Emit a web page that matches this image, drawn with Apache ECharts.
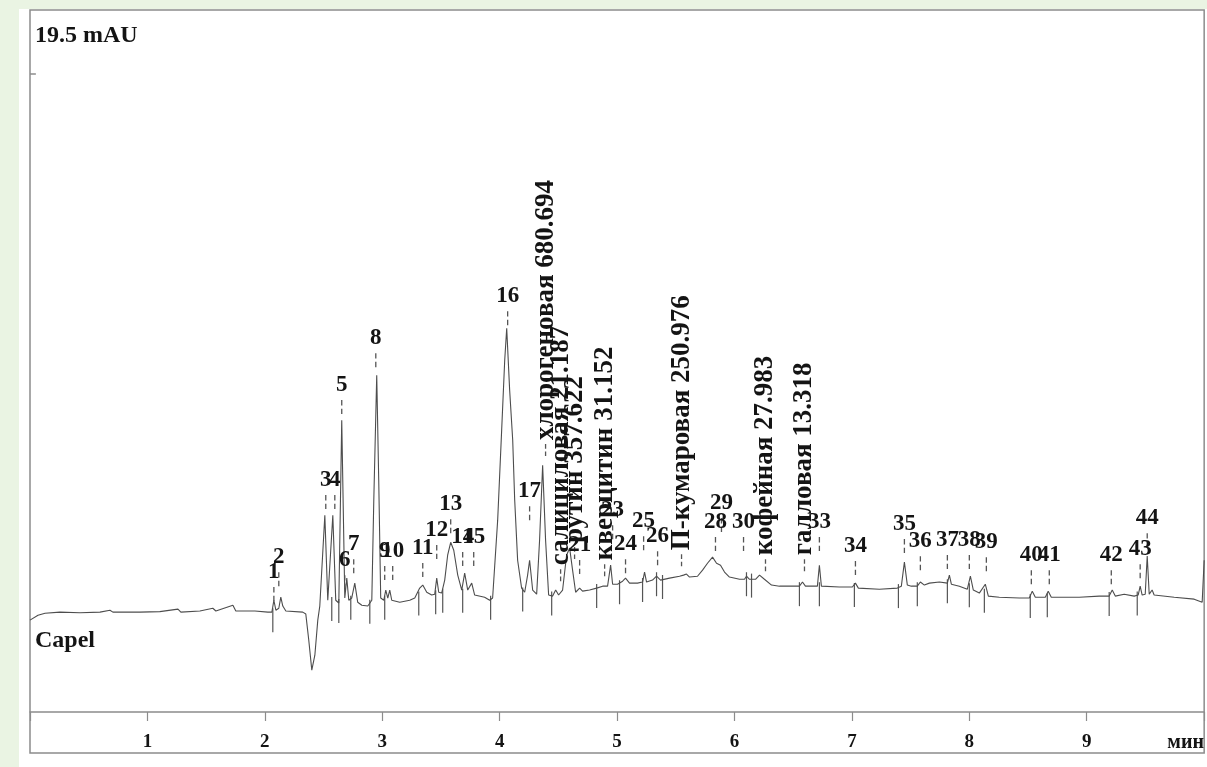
<!DOCTYPE html>
<html><head><meta charset="utf-8">
<script src="https://cdn.jsdelivr.net/npm/echarts@6/dist/echarts.min.js"></script>
<style>
html,body{margin:0;padding:0;background:#eaf4e3;width:1207px;height:767px;overflow:hidden;}
#panel{position:absolute;left:19px;top:9px;width:1188px;height:758px;background:#fff;}
#chart{position:absolute;left:0;top:0;width:1207px;height:767px;}
</style></head><body>
<div id="panel"></div><div id="chart"></div>
<script>
// chromatogram trace (minutes, mAU)
const traceTime = [0.000,0.068,0.128,0.255,0.426,0.596,0.681,0.706,0.936,1.106,1.260,1.285,1.447,1.557,1.583,1.728,1.753,1.915,2.026,2.060,2.077,2.094,2.119,2.136,2.153,2.179,2.323,2.349,2.374,2.400,2.426,2.451,2.468,2.485,2.511,2.536,2.553,2.579,2.604,2.630,2.655,2.681,2.698,2.715,2.740,2.766,2.791,2.826,2.877,2.911,2.928,2.953,2.970,2.987,3.013,3.030,3.047,3.064,3.081,3.149,3.234,3.277,3.319,3.345,3.379,3.421,3.447,3.464,3.481,3.506,3.532,3.557,3.583,3.609,3.643,3.677,3.702,3.728,3.745,3.762,3.787,3.872,3.915,3.940,3.983,4.017,4.043,4.060,4.085,4.111,4.128,4.153,4.187,4.213,4.238,4.255,4.281,4.315,4.340,4.366,4.391,4.417,4.451,4.477,4.502,4.536,4.570,4.596,4.621,4.647,4.681,4.706,4.766,4.826,4.877,4.894,4.919,4.945,4.962,5.004,5.047,5.072,5.106,5.174,5.217,5.234,5.251,5.302,5.336,5.370,5.447,5.532,5.566,5.591,5.617,5.685,5.728,5.770,5.813,5.847,5.881,5.915,5.957,6.043,6.085,6.102,6.128,6.179,6.213,6.255,6.315,6.383,6.511,6.553,6.579,6.604,6.706,6.723,6.740,6.894,7.004,7.030,7.055,7.234,7.387,7.421,7.447,7.472,7.506,7.557,7.583,7.617,7.660,7.745,7.813,7.830,7.847,7.915,7.983,8.009,8.034,8.085,8.136,8.162,8.255,8.426,8.511,8.536,8.562,8.647,8.672,8.698,8.936,9.106,9.191,9.217,9.243,9.319,9.404,9.438,9.455,9.472,9.498,9.515,9.532,9.557,9.574,9.745,9.915,9.983,9.991,10.000];
const traceSignal = [-0.29,-0.11,-0.04,0,-0.02,0,0.07,0,0,0.02,0.11,0,0.04,0.14,0.04,0.25,0.04,0.04,0,0,0.43,0.07,0.14,0.54,0.22,0.04,0,-0.07,-1.01,-2.10,-1.56,-0.29,0.22,0.29,3.51,0.43,0.36,3.51,0.43,0.33,6.95,0.51,1.23,0.43,0.51,1.05,0.36,0.25,0.22,0.43,4.06,8.58,4.78,0.51,0.43,0.80,0.51,0.80,0.43,0.36,0.43,0.51,0.87,0.98,0.72,0.62,0.65,1.23,0.72,0.69,1.16,2.06,2.53,2.24,1.34,0.80,1.41,0.80,0.87,1.05,0.62,0.54,0.43,0.51,3.33,6.59,9.12,10.28,8.04,6.23,4.06,1.88,0.87,0.72,1.34,1.88,0.80,0.65,2.61,5.32,2.61,0.62,0.58,0.80,0.62,0.80,2.06,2.32,1.52,0.72,0.87,0.76,0.80,0.87,0.94,1.01,0.94,1.70,1.01,1.01,1.12,1.23,1.05,1.05,1.09,1.45,1.09,1.16,1.30,1.16,1.23,1.30,1.34,1.38,1.27,1.30,1.52,1.77,1.99,1.77,1.70,1.45,1.27,1.19,1.19,1.30,1.19,1.19,1.34,1.19,0.98,0.94,0.94,0.94,1.09,0.94,0.94,1.70,0.94,0.91,0.91,1.05,0.87,0.83,0.87,0.94,1.81,0.98,0.94,0.94,1.09,0.98,1.05,1.09,1.05,1.34,1.01,0.94,0.83,1.30,0.80,0.69,1.01,0.58,0.54,0.51,0.51,0.76,0.54,0.54,0.76,0.54,0.54,0.58,0.58,0.80,0.58,0.65,0.58,0.62,0.94,0.62,0.65,2.03,0.65,0.80,0.62,0.54,0.47,0.36,0.33,1.88];

// numbered peak labels
const peakNumbers = ['1','2','3','4','5','6','7','8','9','10','11','12','13','14','15','16','17','21','23','24','25','26','28','29','30','33','34','35','36','37','38','39','40','41','42','43','44'];
const peakTimes = [2.077,2.119,2.519,2.596,2.655,2.681,2.757,2.945,3.021,3.089,3.345,3.464,3.583,3.685,3.779,4.068,4.255,4.681,4.962,5.072,5.226,5.345,5.838,5.889,6.077,6.723,7.030,7.447,7.583,7.813,8.000,8.145,8.528,8.681,9.209,9.455,9.515];
const peakLabelLevels = [1.45,1.99,4.78,4.78,8.22,1.88,2.46,9.92,2.21,2.21,2.32,2.97,3.91,2.72,2.72,11.44,4.38,2.43,3.69,2.46,3.29,2.75,3.26,3.95,3.26,3.26,2.39,3.19,2.57,2.61,2.61,2.53,2.06,2.06,2.06,2.28,3.40];

// identified compounds (name + amount)
const compoundNames = ['хлорогеновая 680.694','салициловая 21.187','рутин 357.622','кверцитин 31.152','П-кумаровая 250.976','кофейная 27.983','галловая 13.318'];
const compoundTimes = [4.391,4.519,4.638,4.894,5.549,6.264,6.596];
const compoundLabelLevels = [6.23,1.70,2.50,1.88,2.24,2.06,2.06];

// integration (baseline event) markers
const eventTimes = [2.068,2.570,2.630,2.732,2.894,3.021,3.311,3.455,3.515,3.685,3.923,4.196,4.443,4.826,5.021,5.217,5.336,5.387,6.102,6.145,6.553,6.723,7.021,7.396,7.557,7.813,8.000,8.128,8.519,8.664,9.191,9.430];
const eventLevels = [0.0,0.4,0.33,0.45,0.3,0.45,0.6,0.65,0.7,0.7,0.45,0.75,0.6,0.87,1.01,1.09,1.3,1.2,1.3,1.25,0.94,0.94,0.91,0.87,0.94,1.05,0.9,0.7,0.51,0.54,0.58,0.6];

const xTickLabels = ['', '1', '2', '3', '4', '5', '6', '7', '8', '9', 'мин'];
const yFullScale = 19.5;
const yUnitLabel = '19.5 mAU';
const sampleName = 'Capel';

const FONT = '"Liberation Serif","Times New Roman",serif';
const TXT = '#141414';
const zip = (a, b) => a.map((v, i) => [v, b[i]]);
const DASH = 'path://M0,0H1V5H0ZM0,8H1V13H0Z';

const chart = echarts.init(document.getElementById('chart'), null, {renderer: 'canvas'});
chart.setOption({
  animation: false,
  backgroundColor: 'transparent',
  title: [
    {text: yUnitLabel, left: 35, top: 24, padding: 0,
     textStyle: {fontFamily: FONT, fontWeight: 'bold', fontSize: 24, color: TXT}},
    {text: sampleName, left: 35, top: 629, padding: 0,
     textStyle: {fontFamily: FONT, fontWeight: 'bold', fontSize: 24, color: TXT}}
  ],
  grid: {left: 30, right: 2, top: 10, bottom: 14, show: true,
         borderColor: '#8c8c8c', borderWidth: 1.5, backgroundColor: 'transparent'},
  xAxis: {
    type: 'value', min: 0, max: 10, interval: 1, offset: -41,
    axisLine: {show: true, onZero: false, lineStyle: {color: '#8c8c8c', width: 1.5}},
    axisTick: {show: true, length: 9, lineStyle: {color: '#8c8c8c', width: 1.2}},
    splitLine: {show: false},
    axisLabel: {
      margin: 21, showMinLabel: true, showMaxLabel: true,
      fontFamily: FONT, fontWeight: 'bold', fontSize: 19, color: TXT,
      formatter: v => {
        const s = xTickLabels[Math.round(v)];
        return Math.round(v) === 10 ? '{u|' + s + '}' : s;
      },
      rich: {u: {fontFamily: FONT, fontWeight: 'bold', fontSize: 20, color: TXT, padding: [0, 37, 0, 0]}}
    }
  },
  yAxis: {
    type: 'value', min: -5.1, max: 21.8,
    axisLine: {show: false}, axisTick: {show: false}, axisLabel: {show: false}, splitLine: {show: false}
  },
  series: [
    {
      type: 'line', data: zip(traceTime, traceSignal), showSymbol: false, symbol: 'none',
      lineStyle: {color: '#4d4d4d', width: 1.1}, silent: true, z: 3,
      markLine: {
        silent: true, symbol: 'none', label: {show: false},
        lineStyle: {color: '#8c8c8c', width: 1.5, type: 'solid'},
        data: [[{coord: [0, yFullScale]}, {coord: [0.05, yFullScale]}]]
      }
    },
    {
      type: 'scatter', data: zip(eventTimes, eventLevels), symbol: 'rect',
      symbolSize: [1.2, 24], symbolOffset: [0, 8], silent: true,
      itemStyle: {color: '#555', opacity: 1}, z: 2
    },
    {
      type: 'scatter', data: peakTimes.map((t, i) => ({value: [t, peakLabelLevels[i]], name: peakNumbers[i]})),
      symbol: DASH, symbolSize: [1.3, 14], symbolOffset: [0, 22],
      itemStyle: {color: '#555', opacity: 1}, silent: true, z: 4,
      label: {show: true, position: 'inside', offset: [0, -22], formatter: p => p.name,
              fontFamily: FONT, fontWeight: 'bold', fontSize: 23, color: TXT, opacity: 1,
              textBorderWidth: 0, textBorderColor: 'transparent',
              align: 'center', verticalAlign: 'middle'}
    },
    {
      type: 'scatter', data: compoundTimes.map((t, i) => ({value: [t, compoundLabelLevels[i]], name: compoundNames[i]})),
      symbol: DASH, symbolSize: [1.3, 12], symbolOffset: [0, 10],
      itemStyle: {color: '#555', opacity: 1}, silent: true, z: 4,
      label: {show: true, position: 'inside', offset: [10, 0], rotate: 90, formatter: p => p.name,
              fontFamily: FONT, fontWeight: 'bold', fontSize: 27, color: TXT, opacity: 1,
              textBorderWidth: 0, textBorderColor: 'transparent',
              align: 'left', verticalAlign: 'middle'}
    }
  ]
});
</script>
</body></html>
